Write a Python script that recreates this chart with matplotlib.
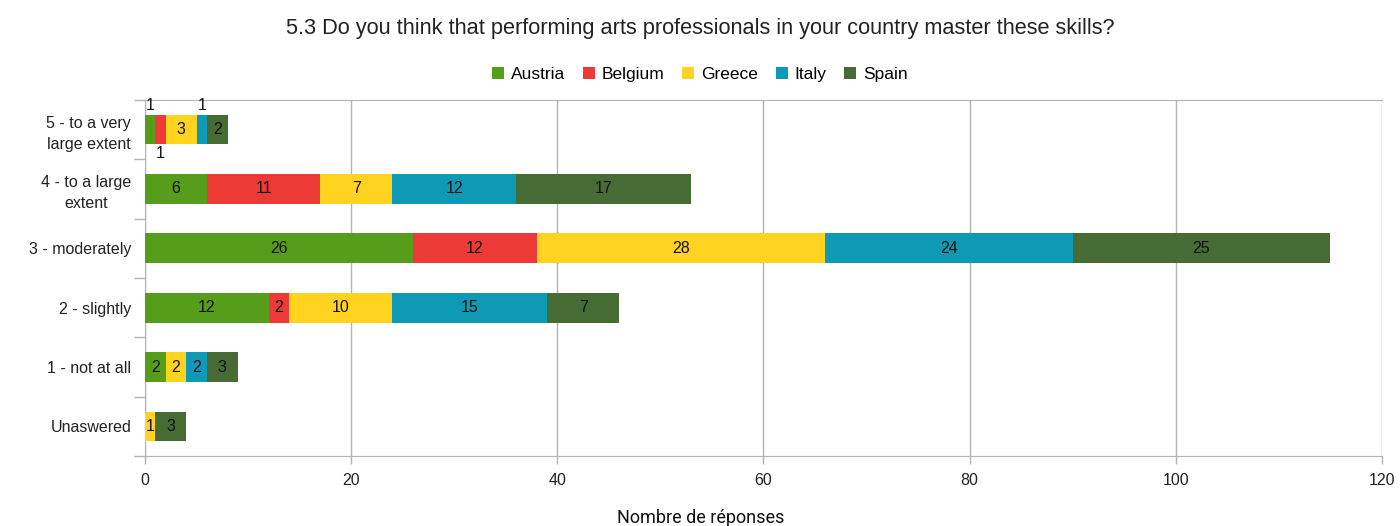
import matplotlib
matplotlib.use("Agg")
import matplotlib.pyplot as plt
import numpy as np

categories = ["5 - to a very\nlarge extent", "4 - to a large\nextent", "3 - moderately",
              "2 - slightly", "1 - not at all", "Unaswered"]
countries = ["Austria", "Belgium", "Greece", "Italy", "Spain"]
austria = [1, 6, 26, 12, 2, 0]
belgium = [1, 11, 12, 2, 0, 0]
greece = [3, 7, 28, 10, 2, 1]
italy = [1, 12, 24, 15, 2, 0]
spain = [2, 17, 25, 7, 3, 3]
series = [austria, belgium, greece, italy, spain]
colors = ["#579d1c", "#ee3a36", "#ffd320", "#0e9ab5", "#476b35"]
x_ticks = [0, 20, 40, 60, 80, 100, 120]

# labels of narrow segments that are moved above (+1) or below (-1) the bar
label_shift = {(0, 0): 1, (0, 1): -1, (0, 3): 1}

plt.rcParams["font.family"] = ["Liberation Sans", "DejaVu Sans"]
fig = plt.figure(figsize=(14, 5.26), dpi=100)
ax = fig.add_axes([0.1036, 0.133, 0.8835, 0.677])

y = np.arange(len(categories))
left = np.zeros(len(categories))
for si, (vals, name, col) in enumerate(zip(series, countries, colors)):
    vals = np.array(vals, dtype=float)
    ax.barh(y, vals, left=left, height=0.5, color=col, label=name, zorder=3)
    for ci, v in enumerate(vals):
        if v <= 0:
            continue
        cx = left[ci] + v / 2
        shift = label_shift.get((ci, si), 0)
        dy = -0.4 * shift
        ax.text(cx, y[ci] + dy, f"{int(v)}", ha="center", va="center",
                fontsize=11.5, color="#111111", zorder=4)
    left += vals

ax.set_ylim(len(categories) - 0.5, -0.5)
ax.set_yticks(y)
ax.set_yticklabels(categories, fontsize=11.5, color="#222222",
                   linespacing=1.45, multialignment="center")
ax.set_yticks(np.arange(-0.5, len(categories) + 0.5, 1), minor=True)
ax.tick_params(axis="y", which="major", length=0, pad=10)
ax.tick_params(axis="y", which="minor", length=8, color="#b3b3b3", width=1)

ax.set_xlim(0, 120)
ax.set_xticks(x_ticks)
ax.set_xticklabels([str(t) for t in x_ticks], fontsize=11.5, color="#222222")
ax.tick_params(axis="x", length=6, color="#b3b3b3", width=1, pad=6)
ax.grid(axis="x", color="#b3b3b3", linewidth=1, zorder=0)

for side in ["left", "top", "bottom"]:
    ax.spines[side].set_color("#b3b3b3")
ax.spines["right"].set_visible(False)

ax.set_xlabel("Nombre de réponses", fontsize=13, family=["Roboto", "DejaVu Sans"],
              color="#111111")
ax.xaxis.set_label_coords(0.449, -0.148)

fig.suptitle("5.3 Do you think that performing arts professionals in your country master these skills?",
             fontsize=15.7, y=0.965, color="#222222")
fig.legend(loc="center", bbox_to_anchor=(0.5, 0.858), ncol=5, frameon=False,
           fontsize=12.5, handlelength=0.7, handleheight=0.7, handletextpad=0.4,
           columnspacing=1.0)

fig.savefig("out.png", dpi=100)
